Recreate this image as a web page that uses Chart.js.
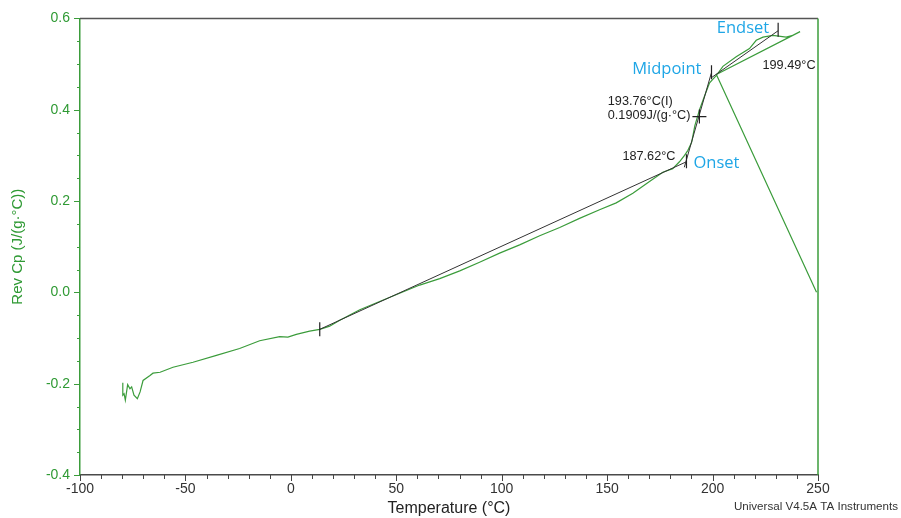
<!DOCTYPE html>
<html><head><meta charset="utf-8">
<script src="https://cdn.jsdelivr.net/npm/chart.js@4/dist/chart.umd.min.js"></script>
<style>html,body{margin:0;padding:0;background:#fff;overflow:hidden}</style>
</head><body>
<canvas id="c" width="901" height="518" style="width:901px;height:518px;display:block"></canvas>
<script>
// ---- data ----
const temperatureC = [-79.7,-79.7,-79.1,-78.5,-77.4,-76.3,-75.5,-74.4,-72.8,-71.5,-70.1,-66.8,-65.4,-62.0,-55.9,-46.4,-35.3,-24.3,-14.8,-5.3,-1.4,2.6,8.9,13.7,18.4,23.2,32.7,42.1,51.6,61.1,70.6,80.1,89.5,99.0,108.5,118.0,127.5,136.9,146.4,154.3,162.2,170.1,176.4,181.1,184.3,186.7,188.3,190.1,191.6,193.9,196.2,197.9,198.6,201.8,204.9,211.2,217.5,220.7,223.9,228.6,234.9,238.1,241.5,201.8,249.3];
const revCp = [-0.198,-0.225,-0.222,-0.236,-0.202,-0.211,-0.207,-0.225,-0.233,-0.218,-0.193,-0.182,-0.177,-0.175,-0.164,-0.153,-0.138,-0.123,-0.106,-0.097,-0.098,-0.092,-0.085,-0.081,-0.074,-0.061,-0.038,-0.020,-0.002,0.016,0.030,0.047,0.066,0.086,0.104,0.124,0.142,0.162,0.181,0.196,0.217,0.243,0.263,0.271,0.286,0.300,0.311,0.329,0.365,0.401,0.430,0.451,0.459,0.475,0.495,0.516,0.534,0.552,0.559,0.563,0.559,0.563,0.571,0.477,0.000];

const baselineT = [13.7, 187.6];
const baselineCp = [-0.081, 0.286];
const tangentT = [186.6, 199.4];
const tangentCp = [0.274, 0.480];
const upperBaseT = [199.4, 231.1];
const upperBaseCp = [0.470, 0.573];

const markerT = [13.7, 187.62, 199.49, 231.1];
const markerCp = [-0.081, 0.287, 0.482, 0.575];
const inflectionT = [193.76];
const inflectionCp = [0.385];

const xTickValues = [-100,-50,0,50,100,150,200,250];
const yTickValues = [-0.4,-0.2,0.0,0.2,0.4,0.6];

const onsetText = "187.62°C";
const inflectionText = ["193.76°C(I)", "0.1909J/(g·°C)"];
const midText = "199.49°C";
const phaseNames = ["Onset", "Midpoint", "Endset"];
const xTitle = "Temperature (°C)";
const yTitle = "Rev Cp (J/(g·°C))";
const footer = "Universal V4.5A TA Instruments";

// ---- styles ----
const GREEN = '#3b9c3b';
const GREEN_TXT = '#2f9a34';
const DARK = '#333333';
const BLUE = '#1fa6e6';
const FONT = "'Liberation Sans', Arial, sans-serif";

const pts = (xs, ys) => xs.map((x, i) => ({x, y: ys[i]}));

const decor = {
  id: 'decor',
  afterDraw(chart) {
    const {ctx, chartArea: a, scales: {x, y}} = chart;
    ctx.save();
    ctx.strokeStyle = '#555'; ctx.lineWidth = 1.5;
    ctx.beginPath(); ctx.moveTo(a.left, a.top); ctx.lineTo(a.right, a.top); ctx.stroke();
    ctx.strokeStyle = GREEN; ctx.lineWidth = 1.5;
    ctx.beginPath(); ctx.moveTo(a.right, a.top); ctx.lineTo(a.right, a.bottom); ctx.stroke();
    ctx.strokeStyle = '#444'; ctx.lineWidth = 1;
    for (let v = -100; v <= 250; v += 10) {
      const px = Math.round(x.getPixelForValue(v)) + 0.5;
      const len = (v % 50 === 0) ? 6 : 4;
      ctx.beginPath(); ctx.moveTo(px, a.bottom); ctx.lineTo(px, a.bottom + len); ctx.stroke();
    }
    ctx.strokeStyle = GREEN;
    for (let i = 0; i <= 20; i++) {
      const v = -0.4 + i * 0.05;
      const py = Math.round(y.getPixelForValue(v)) + 0.5;
      const len = (i % 4 === 0) ? 6 : 3;
      ctx.beginPath(); ctx.moveTo(a.left, py); ctx.lineTo(a.left - len, py); ctx.stroke();
    }
    const onX = x.getPixelForValue(markerT[1]), onY = y.getPixelForValue(markerCp[1]);
    const midX = x.getPixelForValue(markerT[2]), midY = y.getPixelForValue(markerCp[2]);
    const endX = x.getPixelForValue(markerT[3]), endY = y.getPixelForValue(markerCp[3]);
    const crX = x.getPixelForValue(inflectionT[0]), crY = y.getPixelForValue(inflectionCp[0]);
    ctx.fillStyle = '#222'; ctx.font = '12.7px ' + FONT; ctx.textBaseline = 'middle';
    ctx.textAlign = 'right'; ctx.fillText(onsetText, onX - 11, onY - 5);
    const w2 = ctx.measureText(inflectionText[1]).width;
    const lx = crX - 9 - w2;
    ctx.textAlign = 'left';
    ctx.fillText(inflectionText[0], lx, crY - 15);
    ctx.fillText(inflectionText[1], lx, crY - 1);
    ctx.fillText(midText, midX + 51, midY - 7);
    ctx.fillStyle = BLUE; ctx.font = "16.5px 'Open Sans', sans-serif";
    ctx.textAlign = 'left'; ctx.fillText(phaseNames[0], onX + 7, onY + 2);
    ctx.textAlign = 'right'; ctx.fillText(phaseNames[1], midX - 10, midY - 3);
    ctx.fillText(phaseNames[2], endX - 9, endY - 2);
    ctx.fillStyle = '#333'; ctx.font = '11.6px ' + FONT;
    ctx.textAlign = 'right'; ctx.fillText(footer, 898, 507);
    ctx.restore();
  }
};

new Chart(document.getElementById('c'), {
  type: 'scatter',
  data: {
    datasets: [
      {data: pts(markerT, markerCp), showLine: false, pointStyle: 'line', rotation: 90, pointRadius: 7, borderColor: '#222', borderWidth: 1.2, backgroundColor: '#222'},
      {data: pts(inflectionT, inflectionCp), showLine: false, pointStyle: 'cross', pointRadius: 7, borderColor: '#222', borderWidth: 1.2},
      {data: pts(baselineT, baselineCp), showLine: true, pointRadius: 0, borderColor: DARK, borderWidth: 1},
      {data: pts(tangentT, tangentCp), showLine: true, pointRadius: 0, borderColor: DARK, borderWidth: 1},
      {data: pts(upperBaseT, upperBaseCp), showLine: true, pointRadius: 0, borderColor: DARK, borderWidth: 1},
      {data: pts(temperatureC, revCp), showLine: true, pointRadius: 0, borderColor: GREEN, borderWidth: 1.2, tension: 0}
    ]
  },
  options: {
    responsive: false,
    devicePixelRatio: 1,
    animation: false,
    events: [],
    layout: {padding: {top: 12, right: 83, left: 0, bottom: 0}},
    plugins: {legend: {display: false}, tooltip: {enabled: false}},
    scales: {
      x: {
        type: 'linear', min: -100, max: 250,
        afterBuildTicks: s => { s.ticks = xTickValues.map(v => ({value: v})); },
        afterFit: s => { s.height = 43; },
        grid: {display: false, drawTicks: false, tickLength: 0},
        border: {display: true, color: '#4a4a4a', width: 1.5},
        ticks: {padding: 6, color: '#333', font: {family: FONT, size: 14}, maxRotation: 0, autoSkip: false},
        title: {display: true, text: xTitle, color: '#222', font: {family: FONT, size: 16}, padding: {top: 0, bottom: 0}}
      },
      y: {
        type: 'linear', min: -0.4, max: 0.6,
        afterBuildTicks: s => { s.ticks = yTickValues.map(v => ({value: v})); },
        afterFit: s => { s.width = 80; },
        grid: {display: false, drawTicks: false, tickLength: 0},
        border: {display: true, color: GREEN, width: 1.5},
        ticks: {padding: 10, color: GREEN_TXT, font: {family: FONT, size: 14}, callback: v => v.toFixed(1), autoSkip: false},
        title: {display: true, text: yTitle, color: GREEN_TXT, font: {family: FONT, size: 15}, padding: {top: 9, bottom: 0}}
      }
    }
  },
  plugins: [decor]
});
</script>
</body></html>
